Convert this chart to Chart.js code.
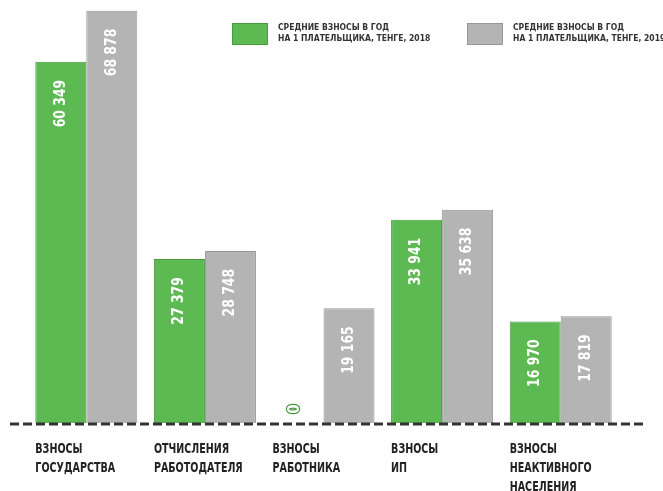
<!DOCTYPE html>
<html>
<head>
<meta charset="utf-8">
<script src="https://cdn.jsdelivr.net/npm/chart.js@4"></script>
<style>
  html, body { margin: 0; padding: 0; background: #fff; }
  #wrap { width: 663px; height: 491px; }
</style>
</head>
<body>
<div id="wrap"><canvas id="chart"></canvas></div>
<script>
// categories (each label split into lines)
const categories = [
    ['ВЗНОСЫ', 'ГОСУДАРСТВА'],
    ['ОТЧИСЛЕНИЯ', 'РАБОТОДАТЕЛЯ'],
    ['ВЗНОСЫ', 'РАБОТНИКА'],
    ['ВЗНОСЫ', 'ИП'],
    ['ВЗНОСЫ', 'НЕАКТИВНОГО', 'НАСЕЛЕНИЯ'],
]
const values2018 = [60349, 27379, 0, 33941, 16970]
const values2019 = [68878, 28748, 19165, 35638, 17819]
const legend2018 = ['СРЕДНИЕ ВЗНОСЫ В ГОД', 'НА 1 ПЛАТЕЛЬЩИКА, ТЕНГЕ, 2018']
const legend2019 = ['СРЕДНИЕ ВЗНОСЫ В ГОД', 'НА 1 ПЛАТЕЛЬЩИКА, ТЕНГЕ, 2019']

const GREEN = '#5dba52'
const GREEN_DARK = '#479a3d'
const GRAY = '#b4b4b4'
const GRAY_DARK = '#979797'
const FONT = '"DejaVu Sans Condensed", "Liberation Sans Narrow", sans-serif'

const fmt = (v) => String(v).replace(/\B(?=(\d{3})+(?!\d))/g, ' ')

//
// Custom drawing: baseline, value labels, category labels, legend
//
const decorations = {
    id: 'decorations',
    afterDatasetsDraw (chart) {
        const { ctx, scales } = chart
        const base = scales.y.getPixelForValue(0)

        // dashed baseline
        ctx.save()
        ctx.strokeStyle = '#333'
        ctx.lineWidth = 3
        ctx.setLineDash([9, 4])
        ctx.beginPath()
        ctx.moveTo(10, base + 1)
        ctx.lineTo(646, base + 1)
        ctx.stroke()
        ctx.restore()

        // value labels
        chart.data.datasets.forEach((ds, di) => {
            const meta = chart.getDatasetMeta(di)
            meta.data.forEach((bar, i) => {
                const v = ds.data[i]
                ctx.save()
                ctx.font = `bold 15px ${FONT}`
                ctx.textBaseline = 'middle'
                if (v === 0) {
                    ctx.translate(bar.x - 3, base - 14)
                    ctx.rotate(-Math.PI / 2)
                    ctx.textAlign = 'center'
                    ctx.lineWidth = 2.5
                    ctx.strokeStyle = GREEN_DARK
                    ctx.fillStyle = '#fff'
                    ctx.strokeText('0', 0, 0)
                    ctx.fillText('0', 0, 0)
                } else {
                    ctx.translate(bar.x, bar.y + 18)
                    ctx.rotate(-Math.PI / 2)
                    ctx.scale(0.92, 1)
                    ctx.textAlign = 'right'
                    ctx.fillStyle = '#fff'
                    ctx.fillText(fmt(v), 0, 0)
                }
                ctx.restore()
            })
        })

        // category labels, left aligned under each group
        const meta0 = chart.getDatasetMeta(0)
        categories.forEach((lines, i) => {
            const bar = meta0.data[i]
            const x = bar.x - bar.width / 2
            lines.forEach((line, li) => {
                ctx.save()
                ctx.translate(x, base + 19 + li * 19)
                ctx.scale(0.76, 1)
                ctx.font = `bold 14px ${FONT}`
                ctx.fillStyle = '#222'
                ctx.textAlign = 'left'
                ctx.textBaseline = 'top'
                ctx.fillText(line, 0, 0)
                ctx.restore()
            })
        })

        // legend
        const drawItem = (x, color, border, lines) => {
            ctx.save()
            ctx.fillStyle = color
            ctx.strokeStyle = border
            ctx.lineWidth = 1
            ctx.fillRect(x, 23, 36, 22)
            ctx.strokeRect(x + 0.5, 23.5, 35, 21)
            ctx.font = `bold 8.5px ${FONT}`
            ctx.fillStyle = '#333'
            ctx.textAlign = 'left'
            ctx.textBaseline = 'middle'
            lines.forEach((line, li) => ctx.fillText(line, x + 46, 28 + li * 11))
            ctx.restore()
        }
        drawItem(232, GREEN, GREEN_DARK, legend2018)
        drawItem(467, GRAY, GRAY_DARK, legend2019)
    },
}

const ctx = document.getElementById('chart').getContext('2d')
new Chart(ctx, {
    type: 'bar',
    data: {
        labels: categories.map((c) => c.join(' ')),
        datasets: [
            {
                label: legend2018.join(' '),
                data: values2018,
                backgroundColor: GREEN,
                borderColor: GREEN_DARK,
                borderWidth: 1,
            },
            {
                label: legend2019.join(' '),
                data: values2019,
                backgroundColor: GRAY,
                borderColor: GRAY_DARK,
                borderWidth: 1,
            },
        ],
    },
    options: {
        responsive: true,
        maintainAspectRatio: false,
        animation: false,
        layout: { padding: { left: 27, right: 43, top: 4, bottom: 68 } },
        datasets: { bar: { categoryPercentage: 0.86, barPercentage: 1 } },
        plugins: {
            legend: { display: false },
            tooltip: { enabled: false },
        },
        scales: {
            x: {
                display: false,
                grid: { display: false },
            },
            y: {
                display: false,
                min: 0,
                max: 70000,
                grid: { display: false },
            },
        },
    },
    plugins: [ decorations ],
})
</script>
</body>
</html>
